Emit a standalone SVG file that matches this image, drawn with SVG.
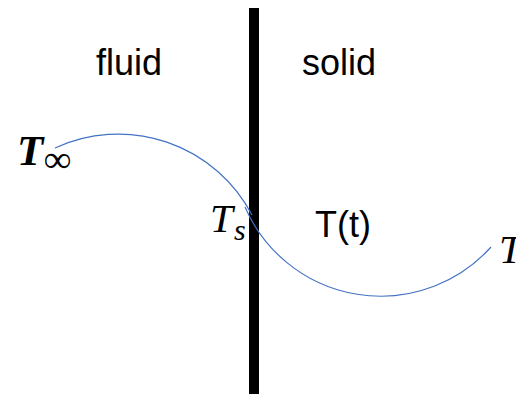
<svg xmlns="http://www.w3.org/2000/svg" width="516" height="394" viewBox="0 0 516 394">
  <style>
    .lbl { font-family: "Liberation Sans", Arial, sans-serif; font-size: 36px; fill: #000; }
    .math { font-family: "Liberation Serif", "Times New Roman", serif; font-style: italic; fill: #000; }
    .curve { fill: none; stroke: #4472C4; stroke-width: 1.2; }
  </style>
  <rect width="516" height="394" fill="#ffffff"/>
  <g id="wall">
    <rect x="249" y="8" width="10" height="386" fill="#000"/>
  </g>
  <g id="connectors">
    <path class="curve" d="M55,148 A151,151 0 0 1 252,215"/>
    <path class="curve" d="M245,207 A148,148 0 0 0 491,247"/>
  </g>
  <g id="fluid">
    <text class="lbl" x="96" y="75">fluid</text>
  </g>
  <g id="solid">
    <text class="lbl" x="302" y="75">solid</text>
  </g>
  <g id="Tt">
    <text class="lbl" x="315" y="237">T(t)</text>
  </g>
  <g id="Tinf">
    <text class="math" x="17" y="165" font-size="43" font-weight="bold">T</text>
    <text class="math" x="44" y="172" font-size="38" font-style="normal">∞</text>
  </g>
  <g id="Ts">
    <text class="math" x="210" y="232" font-size="41">T</text>
    <text class="math" x="234" y="240" font-size="30">s</text>
  </g>
  <g id="Tright">
    <text class="math" x="499" y="263" font-size="41">T</text>
  </g>
</svg>
